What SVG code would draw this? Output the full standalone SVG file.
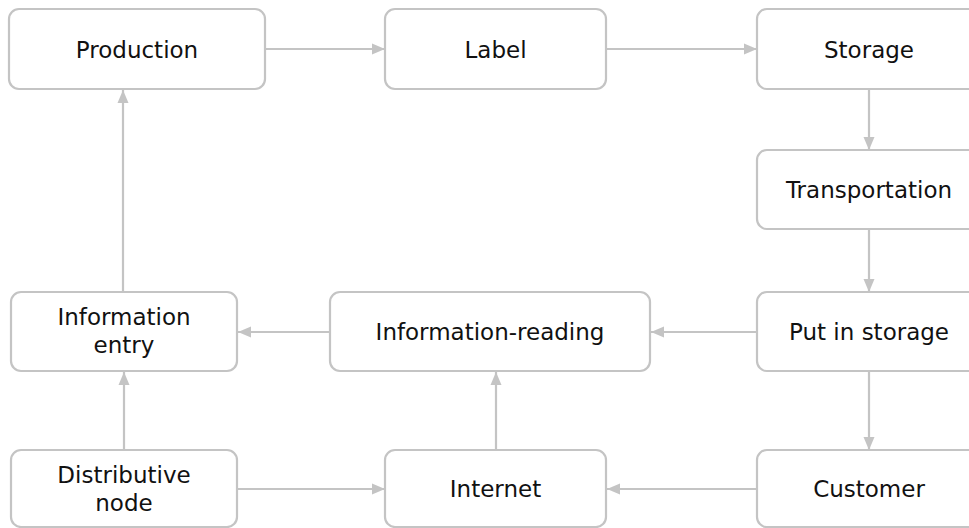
<svg xmlns="http://www.w3.org/2000/svg" width="969" height="528" viewBox="0 0 969 528">
  <style>
    .box { fill: #ffffff; stroke: #c4c4c4; stroke-width: 2.2; }
    .lbl { font-family: "DejaVu Sans", "Noto Sans", sans-serif; font-size: 23px; fill: #111111; text-anchor: middle; }
    .edge { stroke: #c4c4c4; stroke-width: 2.2; fill: none; marker-end: url(#head); }
  </style>
  <defs>
    <marker id="head" markerUnits="userSpaceOnUse" markerWidth="14" markerHeight="12" refX="13" refY="6" orient="auto">
      <path d="M0,0.5 L13,6 L0,11.5 Z" fill="#c4c4c4"/>
    </marker>
  </defs>
  <rect width="969" height="528" fill="#ffffff"/>

  <g id="connectors">
    <line class="edge" x1="265" y1="49" x2="385" y2="49"/>
    <line class="edge" x1="606" y1="49" x2="757" y2="49"/>
    <line class="edge" x1="869" y1="89" x2="869" y2="150"/>
    <line class="edge" x1="869" y1="229" x2="869" y2="292"/>
    <line class="edge" x1="869" y1="371" x2="869" y2="450"/>
    <line class="edge" x1="757" y1="332" x2="651" y2="332"/>
    <line class="edge" x1="330" y1="332" x2="238" y2="332"/>
    <line class="edge" x1="757" y1="489" x2="607" y2="489"/>
    <line class="edge" x1="237" y1="489" x2="385" y2="489"/>
    <line class="edge" x1="496" y1="450" x2="496" y2="372"/>
    <line class="edge" x1="124" y1="450" x2="124" y2="372"/>
    <line class="edge" x1="123" y1="292" x2="123" y2="90"/>
  </g>

  <g id="production">
    <rect class="box" x="9" y="9" width="256" height="80" rx="10"/>
    <text class="lbl" x="137" y="58">Production</text>
  </g>
  <g id="label">
    <rect class="box" x="385" y="9" width="221" height="80" rx="10"/>
    <text class="lbl" x="495.5" y="58">Label</text>
  </g>
  <g id="storage">
    <rect class="box" x="757" y="9" width="224" height="80" rx="10"/>
    <text class="lbl" x="869" y="58">Storage</text>
  </g>
  <g id="transportation">
    <rect class="box" x="757" y="150" width="224" height="79" rx="10"/>
    <text class="lbl" x="869" y="198">Transportation</text>
  </g>
  <g id="put-in-storage">
    <rect class="box" x="757" y="292" width="224" height="79" rx="10"/>
    <text class="lbl" x="869" y="340">Put in storage</text>
  </g>
  <g id="customer">
    <rect class="box" x="757" y="450" width="224" height="77" rx="10"/>
    <text class="lbl" x="869" y="497">Customer</text>
  </g>
  <g id="information-reading">
    <rect class="box" x="330" y="292" width="320" height="79" rx="10"/>
    <text class="lbl" x="490" y="340">Information-reading</text>
  </g>
  <g id="internet">
    <rect class="box" x="385" y="450" width="221" height="77" rx="10"/>
    <text class="lbl" x="495.5" y="497">Internet</text>
  </g>
  <g id="information-entry">
    <rect class="box" x="11" y="292" width="226" height="79" rx="10"/>
    <text class="lbl" x="124" y="325">Information</text>
    <text class="lbl" x="124" y="353">entry</text>
  </g>
  <g id="distributive-node">
    <rect class="box" x="11" y="450" width="226" height="77" rx="10"/>
    <text class="lbl" x="124" y="483">Distributive</text>
    <text class="lbl" x="124" y="511">node</text>
  </g>
</svg>
